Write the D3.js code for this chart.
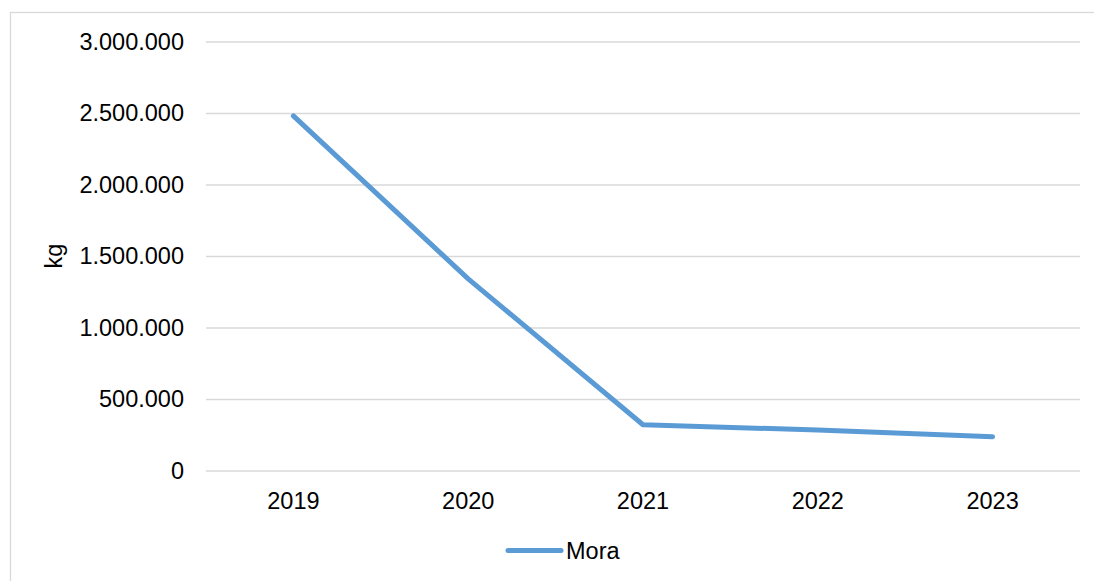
<!DOCTYPE html>
<html>
<head>
<meta charset="utf-8">
<script src="https://cdn.jsdelivr.net/npm/d3@7"></script>
<style>
  html, body { margin: 0; padding: 0; background: #fff; }
  svg { display: block; }
  text { font-family: "Liberation Sans", Arial, sans-serif; fill: #000; }
</style>
</head>
<body>
<svg id="chart" width="1094" height="581"></svg>
<script>
const categories = ["2019", "2020", "2021", "2022", "2023"];
const seriesName = "Mora";
const values = [2480000, 1340000, 320000, 283000, 236000];
const yTicks = [0, 500000, 1000000, 1500000, 2000000, 2500000, 3000000];
const yLabel = "kg";

const W = 1094, H = 581;
const svg = d3.select("#chart");
const margin = { left: 206, right: 14, top: 41.5, bottom: 110.5 };

// frame
svg.append("rect")
  .attr("x", 10.5).attr("y", 12.5)
  .attr("width", W + 20).attr("height", H + 20)
  .attr("fill", "#fff").attr("stroke", "#d9d9d9").attr("stroke-width", 1.3);

const x = d3.scaleBand().domain(categories).range([206, 1080]);
const y = d3.scaleLinear().domain([0, 3000000]).range([470.5, 41.5]);

const fmt = v => d3.format(",")(v).replace(/,/g, ".");

// grid
const yAxis = d3.axisLeft(y).tickValues(yTicks).tickSize(-(1080 - 206)).tickFormat(fmt).tickPadding(22);
const gy = svg.append("g").attr("transform", "translate(206,0)").call(yAxis);
gy.select(".domain").remove();
gy.selectAll(".tick line").attr("stroke", "#d9d9d9").attr("stroke-width", 1.3);
gy.selectAll(".tick text").style("font-size", "23.5px").attr("fill", "#000")
  .style("font-family", "'Liberation Sans', Arial, sans-serif");

const xAxis = d3.axisBottom(x).tickSize(0).tickPadding(22);
const gx = svg.append("g").attr("transform", "translate(0,470.5)").call(xAxis);
gx.select(".domain").remove();
gx.selectAll(".tick text").style("font-size", "23.5px").attr("fill", "#000")
  .style("font-family", "'Liberation Sans', Arial, sans-serif");

// y label
svg.append("text")
  .attr("transform", "translate(62,256) rotate(-90)")
  .attr("text-anchor", "middle")
  .style("font-size", "23.5px")
  .text(yLabel);

// line
const line = d3.line()
  .x((d, i) => x(categories[i]) + x.bandwidth() / 2)
  .y(d => y(d));
svg.append("path")
  .datum(values)
  .attr("d", line)
  .attr("fill", "none")
  .attr("stroke", "#5b9bd5")
  .attr("stroke-width", 5)
  .attr("stroke-linecap", "round")
  .attr("stroke-linejoin", "round");

// legend
const lg = svg.append("g");
lg.append("line")
  .attr("x1", 508).attr("x2", 561).attr("y1", 550.5).attr("y2", 550.5)
  .attr("stroke", "#5b9bd5").attr("stroke-width", 5).attr("stroke-linecap", "round");
lg.append("text")
  .attr("x", 566).attr("y", 559)
  .style("font-size", "23.5px")
  .text(seriesName);
</script>
</body>
</html>
